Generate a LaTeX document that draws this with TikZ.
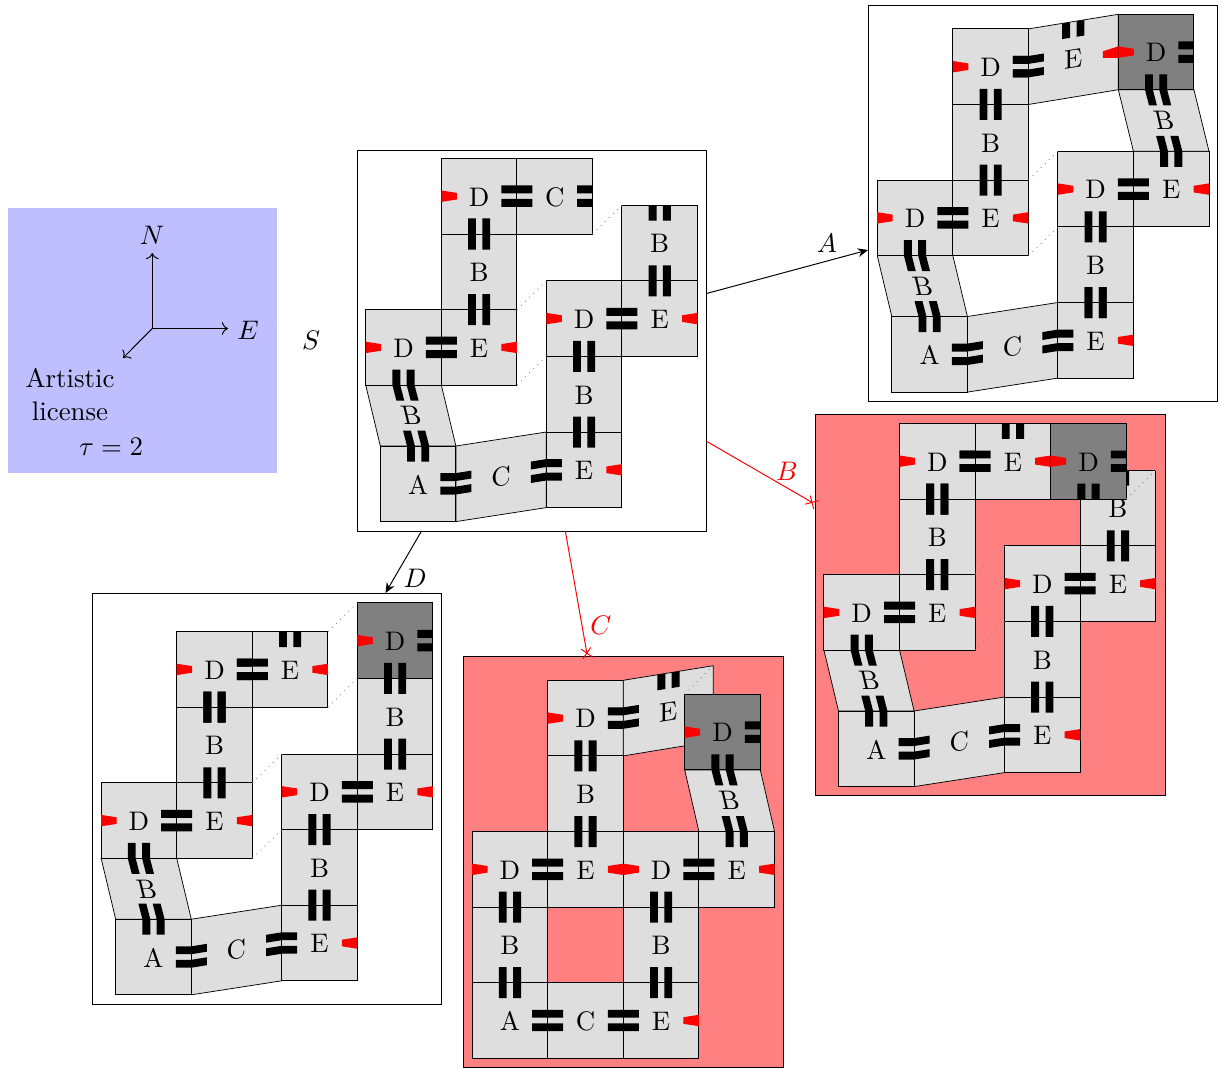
\documentclass[tikz,border=0pt]{standalone}
\usetikzlibrary{arrows.meta}
\definecolor{tilegray}{RGB}{222,222,222}
\definecolor{darktile}{RGB}{128,128,128}
\definecolor{badframe}{RGB}{255,128,128}
\definecolor{legendblue}{RGB}{191,191,255}
\newcount\lblno
\tikzset{
  tileedge/.style={draw=black,line width=0.4pt,fill=tilegray},
  slantedge/.style={draw=black,line width=0.3pt,fill=tilegray},
  darkedge/.style={draw=black,line width=0.4pt,fill=darktile},
  tilelabel/.style={inner sep=0pt,outer sep=0pt,font=\fontsize{10.95}{13}\selectfont},
  framebox/.style={draw=black,line width=0.4pt,inner sep=0pt,outer sep=0pt},
  seam/.style={dotted,gray,line width=0.35pt},
  goodlink/.style={-{Stealth[length=4.2pt,width=3.6pt]},line width=0.4pt,black},
  badlink/.style={-{Rays[n=4,length=5.6pt,width=5.6pt]},shorten >=-0.7pt,line width=0.4pt,red},
  axisarrow/.style={->,line width=0.4pt}
}
\newcommand{\Lbl}[3]{\global\advance\lblno by 1 \node[tilelabel] (t\the\lblno) at (#1,#2) {#3};}
\newcommand{\LblY}[4]{\global\advance\lblno by 1 \begin{scope}[shift={(#1,#2)},yslant=#4]\node[tilelabel,transform shape] (t\the\lblno) at (0,0) {#3};\end{scope}}
\newcommand{\LblX}[4]{\global\advance\lblno by 1 \begin{scope}[shift={(#1,#2)},xslant=#4]\node[tilelabel,transform shape] (t\the\lblno) at (0,0) {#3};\end{scope}}
% straight tile by NW corner
\newcommand{\Tile}[3]{\path[tileedge] (#1,#2) rectangle ++(75.6,75.6);\Lbl{#1+37.8}{#2+38.5}{#3}}
\newcommand{\DarkTile}[2]{\path[darkedge] (#1,#2) rectangle ++(75.6,75.6);\Lbl{#1+37.8}{#2+38.5}{D}}
% half glue bars: edge midpoint, then displacement
\newcommand{\HV}[4]{\fill[black,shift={(#1,#2)}] (-11.1,0) -- (-3.2,0) -- ({-3.2+(#3)},#4) -- ({-11.1+(#3)},#4) -- cycle (3.2,0) -- (11.1,0) -- ({11.1+(#3)},#4) -- ({3.2+(#3)},#4) -- cycle;}
\newcommand{\HH}[4]{\fill[black,shift={(#1,#2)}] (0,-10.7) -- (0,-2.8) -- (#3,{-2.8+(#4)}) -- (#3,{-10.7+(#4)}) -- cycle (0,2.8) -- (0,10.7) -- (#3,{10.7+(#4)}) -- (#3,{2.8+(#4)}) -- cycle;}
% north half bars on a slanted top edge
\newcommand{\HVs}[2]{\fill[black,shift={(#1,#2)}] (-11.1,1.8) -- (-3.2,0.5) -- (-3.2,16) -- (-11.1,17.3) -- cycle (3.2,-0.5) -- (11.1,-1.8) -- (11.1,13.7) -- (3.2,15) -- cycle;}
\newcommand{\GV}[2]{\HV{#1}{#2}{0}{-15.5}\HV{#1}{#2}{0}{15.5}}
\newcommand{\GH}[2]{\HH{#1}{#2}{-15.5}{0}\HH{#1}{#2}{15.5}{0}}
\newcommand{\Wedge}[4]{\fill[red,shift={(#1,#2)}] (0,-5.7) -- (0,5.7) -- (#3,{3.3+(#4)}) -- (#3,{-3.3+(#4)}) -- cycle;}
% everything the four translated assemblies share (coordinates of S)
\newcommand{\SharedPart}{%
  \path[slantedge] (365.7,385) -- (441.3,385) -- (455.9,446) -- (380.3,446) -- cycle;
  \LblX{411.2}{415.7}{B}{-0.24}
  \path[slantedge] (455.9,446) -- (546.3,432) -- (546.3,507.6) -- (455.9,521.6) -- cycle;
  \LblY{501}{476.7}{C}{0.16}
  \Tile{380.3}{446}{A}
  \Tile{546.3}{432}{E}
  \Tile{546.3}{356.4}{B}
  \Tile{546.3}{280.8}{D}
  \Tile{621.9}{280.8}{E}
  \Tile{441.3}{234}{B}
  \Tile{441.3}{309.6}{E}
  \Tile{365.7}{309.6}{D}
  \Tile{441.3}{158.4}{D}
  \draw[seam] (517,309.6) -- (546.3,280.8);
  \draw[seam] (517,385.2) -- (546.3,356.4);
  \HV{418.1}{446}{-4}{-15.5}\HV{418.1}{446}{0}{15.5}
  \HV{403.5}{385.2}{0}{-15.5}\HV{403.5}{385.2}{4}{15.5}
  \HH{455.9}{483.8}{-15.5}{0}\HH{455.9}{483.8}{15.5}{-2.5}
  \HH{546.3}{469.8}{15.5}{0}\HH{546.3}{469.8}{-15.5}{2.5}
  \GV{584.1}{432}\GV{584.1}{356.4}\GH{621.9}{318.6}
  \GV{479.1}{309.6}\GV{479.1}{234}\GH{441.3}{347.4}\GH{516.9}{196.2}
  \Wedge{365.7}{347.4}{15.5}{0}\Wedge{516.9}{347.4}{-15.5}{0}
  \Wedge{546.3}{318.6}{15.5}{0}\Wedge{697.5}{318.6}{-15.5}{0}
  \Wedge{621.9}{469.8}{-15.5}{0}\Wedge{441.3}{196.2}{15.5}{0}
}
\begin{document}
\begin{tikzpicture}[x=0.4082pt,y=-0.4082pt]
\useasboundingbox (0,0) rectangle (1224,1068);
% legend
\fill[legendblue] (8,208) rectangle (277,473);
\coordinate (o) at (152.3,328.5);
\coordinate (ntip) at (152.3,253);
\coordinate (etip) at (228,328.5);
\coordinate (stip) at (123,358);
\draw[axisarrow] (o) -- (ntip);
\draw[axisarrow] (o) -- (etip);
\draw[axisarrow] (o) -- (stip);
\node[tilelabel] (legN) at (152,235) {$N$};
\node[tilelabel] (legE) at (248,330) {$E$};
\node[tilelabel] (legA) at (70,378) {Artistic};
\node[tilelabel] (legL) at (70,411.5) {license};
\node[tilelabel] (legT) at (111,447) {$\tau=2$};
\node[tilelabel] (nameS) at (311,340.5) {$S$};
% frames
\node[framebox,minimum width=349.5*0.4082pt,minimum height=381*0.4082pt] (frS) at (531.75,340.5) {};
\node[framebox,minimum width=349.5*0.4082pt,minimum height=396*0.4082pt] (frA) at (1042.75,203) {};
\node[framebox,fill=badframe,minimum width=350*0.4082pt,minimum height=381*0.4082pt] (frB) at (990,605) {};
\node[framebox,fill=badframe,minimum width=320*0.4082pt,minimum height=411*0.4082pt] (frC) at (623.5,862) {};
\node[framebox,minimum width=349.5*0.4082pt,minimum height=411*0.4082pt] (frD) at (266.75,798.5) {};
% connectors
\draw[goodlink] (frS) -- (frA);
\draw[badlink] (frS) -- (frB);
\draw[badlink] (frS) -- (frC);
\draw[goodlink] (frS) -- (frD);
\node[tilelabel] (labA) at (827,243) {$A$};
\node[tilelabel,text=red] (labB) at (787,471) {$B$};
\node[tilelabel,text=red] (labC) at (601,625) {$C$};
\node[tilelabel] (labD) at (415,578) {$D$};
% S
\begin{scope}
  \Tile{621.9}{205.2}{B}
  \SharedPart
  \Tile{516.9}{158.4}{C}
  \GV{659.7}{280.8}\HV{659.7}{205.2}{0}{15.5}
  \HH{516.9}{196.2}{15.5}{0}\HH{592.5}{196.2}{-15.5}{0}
  \draw[seam] (592.5,234) -- (621.9,205.2);
\end{scope}
% A
\begin{scope}[shift={(511.5,-129.5)}]
  \SharedPart
  \path[slantedge] (606.8,219.2) -- (682.4,219.2) -- (697.5,280.8) -- (621.9,280.8) -- cycle;
  \LblX{652.5}{250.2}{B}{-0.24}
  \path[slantedge] (516.9,158.4) -- (606.8,143.8) -- (606.8,219.2) -- (516.9,234) -- cycle;
  \LblY{561.8}{188.8}{E}{0.16}
  \DarkTile{606.8}{143.8}
  \GV{584.1}{432}
  \HVs{561.8}{151.3}
  \HH{516.9}{196.2}{-15.5}{0}\HH{516.9}{196.2}{15.5}{-2.5}
  \Wedge{606.8}{181.6}{-15.5}{2.5}\Wedge{606.8}{181.6}{15.5}{0}
  \HH{682.4}{181.6}{-15.5}{0}
  \HV{644.6}{219.4}{0}{-15.5}\HV{644.6}{219.4}{4}{15.5}
  \HV{659.7}{280.8}{-4}{-15.5}\HV{659.7}{280.8}{0}{15.5}
\end{scope}
% B
\begin{scope}[shift={(458.2,265)}]
  \Tile{621.9}{205.2}{B}
  \SharedPart
  \GV{659.7}{280.8}\HV{659.7}{205.2}{0}{15.5}
  \Tile{516.9}{158.4}{E}
  \DarkTile{592.5}{158.4}
  \GH{516.9}{196.2}
  \GV{479.1}{234}
  \HV{554.7}{158.4}{0}{15.5}
  \Wedge{592.5}{196.2}{-15.5}{0}\Wedge{592.5}{196.2}{15.5}{0}
  \HH{668.1}{196.2}{-15.5}{0}
  \HV{630.3}{234}{0}{-15.5}
  \draw[seam] (668.1,234) -- (697.5,205.2);
\end{scope}
% D
\begin{scope}[shift={(-264.6,473.2)}]
  \Tile{621.9}{205.2}{B}
  \SharedPart
  \GV{659.7}{280.8}
  \Tile{516.9}{158.4}{E}
  \GH{516.9}{196.2}
  \GV{479.1}{234}
  \HV{554.7}{158.4}{0}{15.5}
  \Wedge{592.5}{196.2}{-15.5}{0}
  \DarkTile{621.9}{129.6}
  \GV{659.7}{205.2}
  \Wedge{621.9}{167.4}{15.5}{0}
  \HH{697.5}{167.4}{-15.5}{0}
  \draw[seam] (592.5,158.4) -- (621.9,129.6);
  \draw[seam] (592.5,234) -- (621.9,205.2);
\end{scope}
% C
\begin{scope}
  \Tile{547.7}{680.3}{D}
  \Tile{547.7}{755.9}{B}
  \Tile{472.1}{831.5}{D}
  \Tile{547.7}{831.5}{E}
  \Tile{623.3}{831.5}{D}
  \Tile{698.9}{831.5}{E}
  \Tile{472.1}{907.1}{B}
  \Tile{623.3}{907.1}{B}
  \Tile{472.1}{982.7}{A}
  \Tile{547.7}{982.7}{C}
  \Tile{623.3}{982.7}{E}
  \path[slantedge] (623.3,680.3) -- (713.3,665.7) -- (713.3,741.1) -- (623.3,755.9) -- cycle;
  \LblY{668.3}{711.7}{E}{0.16}
  \path[slantedge] (684.7,769.9) -- (760.3,769.9) -- (774.5,831.5) -- (698.9,831.5) -- cycle;
  \LblX{729.5}{800.7}{B}{-0.24}
  \DarkTile{684.7}{694.3}
  \draw[seam] (684.7,694.3) -- (713.3,665.7);
  \HH{623.3}{718.1}{-15.5}{0}\HH{623.3}{718.1}{15.5}{-2.5}
  \HVs{668.5}{673}
  \GV{585.5}{755.9}\GV{585.5}{831.5}\GH{547.7}{869.3}\GH{698.9}{869.3}
  \GV{509.9}{907.1}\GV{509.9}{982.7}\GV{661.1}{907.1}\GV{661.1}{982.7}
  \GH{547.7}{1020.5}\GH{623.3}{1020.5}
  \HH{760.3}{732.1}{-15.5}{0}
  \HV{722.5}{769.9}{0}{-15.5}\HV{722.5}{769.9}{4}{15.5}
  \HV{736.7}{831.5}{-4}{-15.5}\HV{736.7}{831.5}{0}{15.5}
  \Wedge{547.7}{718.1}{15.5}{0}\Wedge{684.7}{732.1}{15.5}{0}
  \Wedge{472.1}{869.3}{15.5}{0}\Wedge{623.3}{869.3}{-15.5}{0}\Wedge{623.3}{869.3}{15.5}{0}
  \Wedge{774.5}{869.3}{-15.5}{0}\Wedge{698.9}{1020.5}{-15.5}{0}
\end{scope}
\end{tikzpicture}
\end{document}
